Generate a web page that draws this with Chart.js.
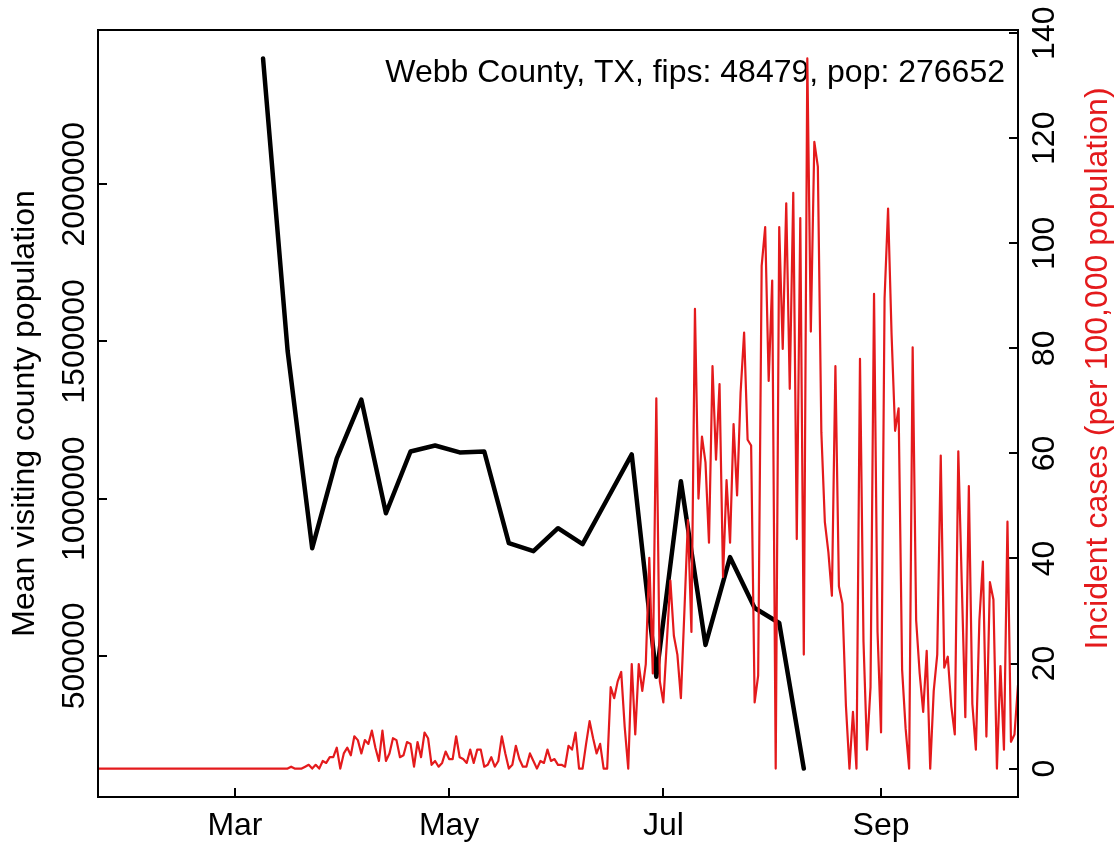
<!DOCTYPE html>
<html>
<head>
<meta charset="utf-8">
<script src="https://cdn.jsdelivr.net/npm/chart.js@4.4.1/dist/chart.umd.min.js"></script>
<style>
  html, body { margin: 0; padding: 0; background: #ffffff; overflow: hidden; }
  #wrap { width: 1119px; height: 846px; position: relative; }
  canvas { display: block; }
</style>
</head>
<body>
<div id="wrap"><canvas id="c" width="1119" height="846"></canvas></div>
<script>
// ---------------- data ----------------
const chartTitle = 'Webb County, TX, fips: 48479, pop: 276652';
const leftAxisTitle = 'Mean visiting county population';
const rightAxisTitle = 'Incident cases (per 100,000 population)';

// daily incident cases per 100,000, one value per day starting at caseStartDate
const caseStartDate = '2020-01-22';
const incidentCases = [
  0, 0, 0, 0, 0, 0, 0, 0, 0, 0,
  0, 0, 0, 0, 0, 0, 0, 0, 0, 0,
  0, 0, 0, 0, 0, 0, 0, 0, 0, 0,
  0, 0, 0, 0, 0, 0, 0, 0, 0, 0,
  0, 0, 0, 0, 0, 0, 0, 0, 0, 0,
  0, 0, 0, 0, 0, 0.36, 0, 0, 0, 0.36,
  0.72, 0, 0.72, 0, 1.45, 1.08, 2.17, 2.17, 3.98, 0,
  2.89, 3.98, 2.53, 6.15, 5.42, 2.89, 5.42, 4.7, 7.23, 3.98,
  1.45, 7.23, 1.45, 2.89, 5.78, 5.42, 2.17, 2.53, 5.06, 4.7,
  0.36, 5.06, 2.17, 6.87, 5.78, 0.72, 1.45, 0.36, 1.08, 3.25,
  1.81, 1.81, 6.15, 2.17, 1.81, 1.08, 3.61, 1.08, 3.61, 3.61,
  0.36, 0.72, 2.17, 0.36, 1.45, 6.15, 2.89, 0, 0.72, 4.34,
  1.81, 0.36, 0.36, 2.89, 1.45, 0, 1.45, 1.08, 3.61, 1.45,
  1.81, 0.72, 0.72, 0.36, 4.34, 3.61, 6.87, 0, 0, 4.7,
  9.04, 5.78, 2.89, 4.7, 0, 0, 15.5, 13.4, 16.6, 18.4,
  7.9, 0, 19.9, 6.5, 19.9, 14.8, 19.9, 40.1, 18.1, 70.5,
  16.6, 12.6, 24.2, 35.8, 25.3, 21.7, 13.4, 30.0, 47.3, 26.0,
  87.5, 51.4, 63.2, 58.3, 43.0, 76.6, 58.8, 73.2, 36.5, 54.9,
  43.0, 65.6, 52.0, 71.6, 83.0, 62.6, 61.5, 12.6, 17.7, 95.7,
  103.1, 73.8, 92.9, 0, 103.1, 79.9, 107.6, 72.3, 109.6, 43.7,
  104.8, 21.7, 135.2, 83.2, 119.3, 114.6, 64.0, 46.9, 41.2, 32.9,
  76.6, 34.7, 31.4, 11.9, 0, 10.8, 0, 78.0, 24.2, 3.6,
  15.5, 90.4, 26.0, 6.9, 89.5, 106.6, 82.6, 64.3, 68.6, 18.8,
  7.6, 0, 80.2, 28.2, 18.1, 10.8, 22.4, 0, 14.8, 21.7,
  59.6, 19.2, 21.3, 11.9, 6.5, 60.4, 35.0, 9.8, 53.8, 12.3,
  3.6, 28.2, 39.4, 6.1, 35.5, 32.2, 0, 19.5, 3.6, 47.0,
  5.1, 6.5, 15.9
];

// weekly mean visiting county population
const visitDates = [
  '2020-03-09', '2020-03-16', '2020-03-23', '2020-03-30', '2020-04-06', '2020-04-13',
  '2020-04-20', '2020-04-27', '2020-05-04', '2020-05-11', '2020-05-18', '2020-05-25',
  '2020-06-01', '2020-06-08', '2020-06-15', '2020-06-22', '2020-06-29', '2020-07-06',
  '2020-07-13', '2020-07-20', '2020-07-27', '2020-08-03', '2020-08-10'
];
const meanVisiting = [
  2400000, 1470000, 842600, 1128000, 1315000, 953600,
  1150000, 1169000, 1147000, 1150000, 858400, 833100,
  906000, 855300, 998000, 1140700, 433400, 1055100,
  534900, 814000, 652300, 604700, 141600
];

const monthTickDates = ['2020-03-01', '2020-05-01', '2020-07-01', '2020-09-01'];
const monthTickLabels = ['Mar', 'May', 'Jul', 'Sep'];
const visitingTicks = [500000, 1000000, 1500000, 2000000];
const caseTicks = [0, 20, 40, 60, 80, 100, 120, 140];

// ---------------- helpers ----------------
const RED = '#E41A1C';
const FONT_FAMILY = '"Liberation Sans", Arial, Helvetica, sans-serif';
const FONT_SIZE = 32;
const TICK_LEN = -9; // inward ticks

function dayOfYear(iso) {
  const [y, m, d] = iso.split('-').map(Number);
  return Math.round((Date.UTC(y, m - 1, d) - Date.UTC(y, 0, 0)) / 86400000);
}
const caseStartDay = dayOfYear(caseStartDate);
const casePoints = incidentCases.map((v, i) => ({ x: caseStartDay + i, y: v }));
const visitPoints = visitDates.map((d, i) => ({ x: dayOfYear(d), y: meanVisiting[i] }));
const monthTickDays = monthTickDates.map(dayOfYear);

// R-style 4% axis extension
function extRange(arr) {
  const lo = Math.min(...arr), hi = Math.max(...arr);
  const e = 0.04 * (hi - lo);
  return [lo - e, hi + e];
}
const [visLo, visHi] = extRange(meanVisiting);
const [caseLo, caseHi] = extRange(incidentCases);

const mctx = document.createElement('canvas').getContext('2d');
mctx.font = FONT_SIZE + 'px ' + FONT_FAMILY;
const tw = s => mctx.measureText(s).width;
const leftWidest = Math.max(...visitingTicks.map(v => tw(String(v))));
const rightWidest = Math.max(...caseTicks.map(v => tw(String(v))));

const PLOT = { left: 98, right: 1018, top: 30, bottom: 797, W: 1119, H: 846 };
const LEFT_LABEL_X = 75, RIGHT_LABEL_X = 1045;

Chart.defaults.font.family = FONT_FAMILY;
Chart.defaults.font.size = FONT_SIZE;
Chart.defaults.color = '#000';

const decorations = {
  id: 'decorations',
  beforeDatasetsDraw(chart) {
    const { ctx, chartArea: a } = chart;
    ctx.save();
    ctx.font = FONT_SIZE + 'px ' + FONT_FAMILY;
    ctx.fillStyle = '#000';
    ctx.textAlign = 'right';
    ctx.textBaseline = 'alphabetic';
    ctx.fillText(chartTitle, a.right - 13, a.top + 52);
    ctx.restore();
  },
  afterDraw(chart) {
    const { ctx, chartArea: a } = chart;
    ctx.save();
    ctx.strokeStyle = '#000';
    ctx.lineWidth = 2;
    ctx.strokeRect(a.left, a.top, a.right - a.left, a.bottom - a.top);
    ctx.font = FONT_SIZE + 'px ' + FONT_FAMILY;
    ctx.fillStyle = RED;
    ctx.textAlign = 'center';
    ctx.textBaseline = 'middle';
    ctx.translate(a.right + 80, (a.top + a.bottom) / 2 - 45);
    ctx.rotate(-Math.PI / 2);
    ctx.fillText(rightAxisTitle, 0, 0);
    ctx.restore();
  }
};

const tickGrid = { display: true, drawOnChartArea: false, drawTicks: true, tickLength: TICK_LEN, color: '#000', lineWidth: 2 };
const axisBorder = { display: true, color: '#000', width: 2 };

new Chart(document.getElementById('c'), {
  type: 'line',
  data: {
    datasets: [
      {
        label: 'Incident cases',
        data: casePoints,
        yAxisID: 'y2',
        borderColor: RED,
        borderWidth: 2.2,
        pointRadius: 0,
        tension: 0,
        borderJoinStyle: 'round',
        borderCapStyle: 'round',
        fill: false
      },
      {
        label: 'Mean visiting county population',
        data: visitPoints,
        yAxisID: 'y',
        borderColor: '#000',
        borderWidth: 4.5,
        pointRadius: 0,
        tension: 0,
        borderJoinStyle: 'round',
        borderCapStyle: 'round',
        fill: false
      }
    ]
  },
  options: {
    responsive: false,
    animation: false,
    events: [],
    layout: { padding: { top: PLOT.top, left: 0, right: 0, bottom: 0 } },
    plugins: { legend: { display: false }, tooltip: { enabled: false }, title: { display: false } },
    scales: {
      x: {
        type: 'linear',
        position: 'bottom',
        min: casePoints[0].x,
        max: casePoints[casePoints.length - 1].x,
        grid: tickGrid,
        border: axisBorder,
        afterBuildTicks: s => { s.ticks = monthTickDays.map(v => ({ value: v })); },
        afterFit: s => { s.height = PLOT.H - PLOT.bottom; },
        ticks: {
          autoSkip: false,
          maxRotation: 0,
          minRotation: 0,
          padding: 19,
          color: '#000',
          callback: v => monthTickLabels[monthTickDays.indexOf(v)]
        }
      },
      y: {
        type: 'linear',
        position: 'left',
        min: visLo,
        max: visHi,
        grid: tickGrid,
        border: axisBorder,
        afterBuildTicks: s => { s.ticks = visitingTicks.map(v => ({ value: v })); },
        afterFit: s => { s.width = PLOT.left; },
        title: { display: true, text: leftAxisTitle, color: '#000', padding: { top: 6, bottom: 0 }, font: { size: FONT_SIZE } },
        ticks: {
          autoSkip: false,
          minRotation: 90,
          maxRotation: 90,
          crossAlign: 'center',
          padding: (PLOT.left - TICK_LEN - LEFT_LABEL_X) - leftWidest / 2,
          color: '#000',
          callback: v => String(v)
        }
      },
      y2: {
        type: 'linear',
        position: 'right',
        min: caseLo,
        max: caseHi,
        grid: tickGrid,
        border: axisBorder,
        afterBuildTicks: s => { s.ticks = caseTicks.map(v => ({ value: v })); },
        afterFit: s => { s.width = PLOT.W - PLOT.right; },
        ticks: {
          autoSkip: false,
          minRotation: 90,
          maxRotation: 90,
          crossAlign: 'center',
          padding: (RIGHT_LABEL_X - PLOT.right - TICK_LEN) - rightWidest / 2,
          color: '#000',
          callback: v => String(v)
        }
      }
    }
  },
  plugins: [decorations]
});
</script>
</body>
</html>
